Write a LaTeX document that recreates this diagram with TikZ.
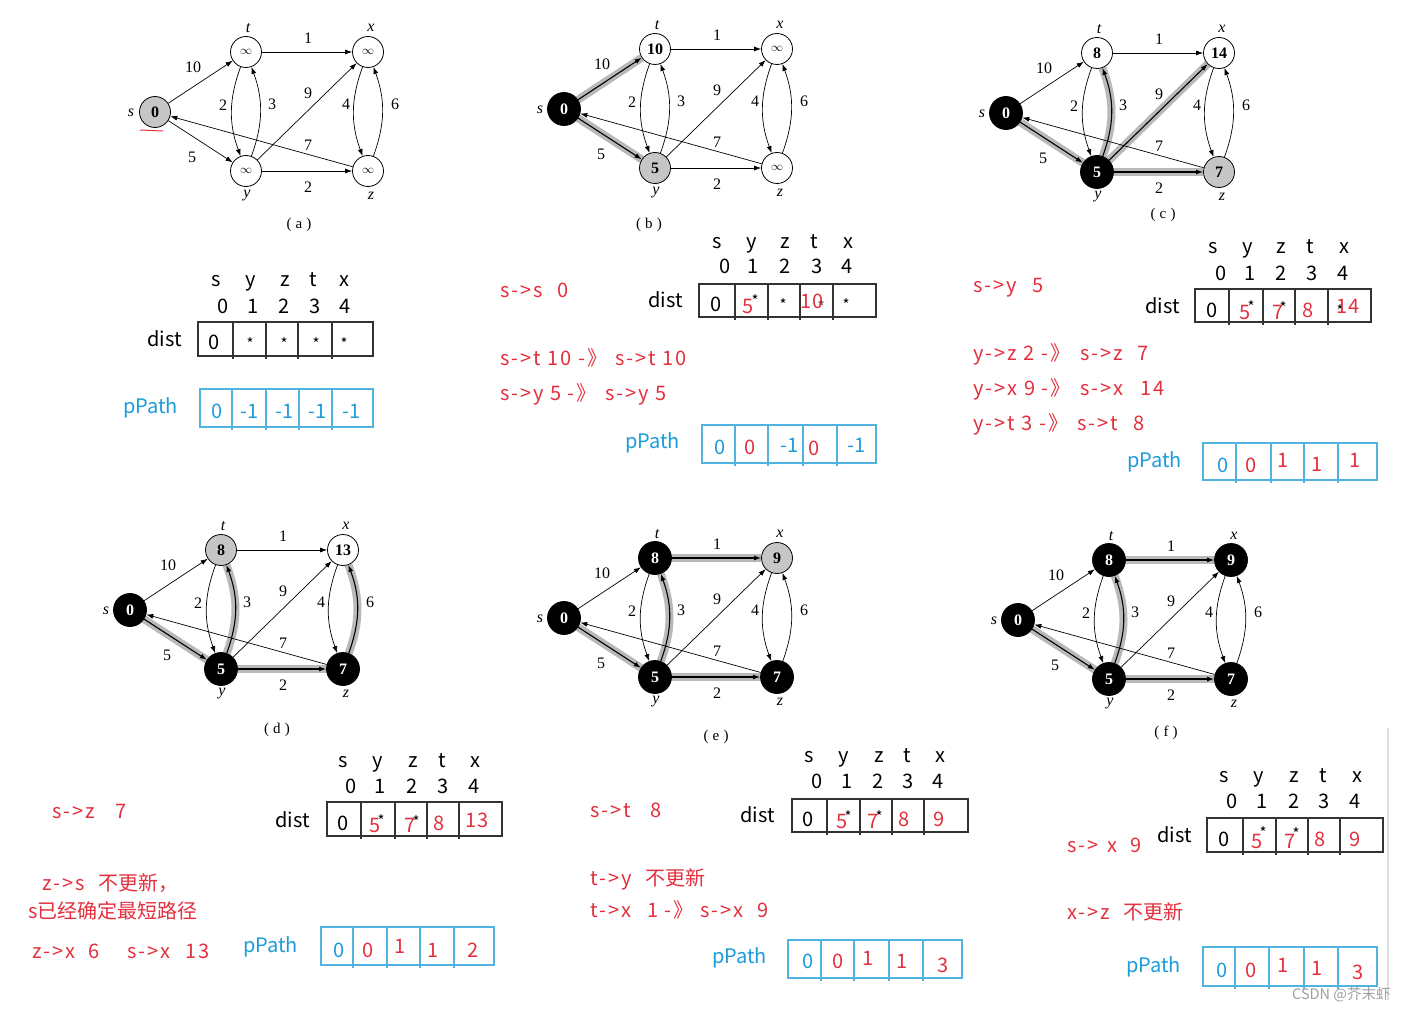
\documentclass[tikz,border=0pt]{standalone}
\usepackage{fontspec}
\setmainfont{Liberation Serif}
\newfontfamily\cjk{Noto Sans CJK SC}
\newfontfamily\cjkw[LetterSpace=10]{Noto Sans CJK SC}
\usetikzlibrary{arrows.meta,backgrounds}
\definecolor{myred}{RGB}{228,48,62}
\definecolor{myblue}{RGB}{28,157,218}
\definecolor{lineblue}{RGB}{80,180,225}
\newcommand\infsym{{\fontsize{13}{13}\selectfont$\infty$}}
\tikzset{
  gnode/.style={circle,draw,line width=0.8pt,minimum size=31pt,inner sep=0pt,font=\bfseries\fontsize{16}{16}\selectfont},
  wn/.style={fill=white},
  gn/.style={fill=gray!45},
  bn/.style={fill=black,text=white,minimum size=33pt},
  val/.style={node contents={#1}},
  gedge/.style={draw,line width=0.7pt,-{Latex[length=7pt,width=5pt]}},
  hlt/.style={preaction={draw,-,line width=8pt,gray!55},line width=1.1pt},
  e st/.style={}, e sy/.style={}, e tx/.style={}, e ty/.style={}, e yt/.style={},
  e yx/.style={}, e yz/.style={}, e zs/.style={}, e xz/.style={}, e zx/.style={},
  elab/.style={font=\fontsize{16}{16}\selectfont,inner sep=0pt},
  vlab/.style={font=\itshape\fontsize{16}{16}\selectfont,inner sep=0pt},
  captn/.style={font=\fontsize{15}{15}\selectfont,inner sep=0pt},
  tt/.style={font=\cjk\fontsize{20}{24}\selectfont,inner sep=0pt,anchor=base},
  ttw/.style={tt,anchor=base west},
  star/.style={font=\cjk\fontsize{15}{15}\selectfont,inner sep=0pt},
  rv/.style={tt,text=myred},
  bv/.style={tt,text=myblue},
  rt/.style={ttw,text=myred,font=\cjkw\fontsize{20}{24}\selectfont},
  rtc/.style={ttw,text=myred},
  tabline/.style={draw=black!80,line width=1.1pt},
  pline/.style={draw=lineblue,line width=1.1pt},
}
% graph: #1 prefix, #2 shift, #3..#7 options of s,t,x,y,z
\newcommand\drawgraph[7]{%
\begin{scope}[shift={#2}]
  \node (#1s) at (0,0) [gnode,#3];
  \node (#1t) at (91,-60) [gnode,#4];
  \node (#1x) at (213,-60) [gnode,#5];
  \node (#1y) at (91,59) [gnode,#6];
  \node (#1z) at (213,59) [gnode,#7];
  \begin{pgfonlayer}{background}
  \path[gedge,e st] (#1s) -- (#1t);
  \path[gedge,e sy] (#1s) -- (#1y);
  \path[gedge,e tx] (#1t) -- (#1x);
  \path[gedge,e ty] (#1t) to[bend right=20] (#1y);
  \path[gedge,e yt] (#1y) to[bend right=20] (#1t);
  \path[gedge,e yx] (#1y) -- (#1x);
  \path[gedge,e yz] (#1y) -- (#1z);
  \path[gedge,e zs] (#1z) -- (#1s);
  \path[gedge,e xz] (#1x) to[bend right=20] (#1z);
  \path[gedge,e zx] (#1z) to[bend right=20] (#1x);
  \end{pgfonlayer}
  \node[vlab] (#1ls) at (-24,1) {s};
  \node[vlab] (#1lt) at (93,-84) {t};
  \node[vlab] (#1lx) at (216,-84) {x};
  \node[vlab] (#1ly) at (92,84) {y};
  \node[vlab] (#1lz) at (216,84) {z};
  \node[elab] (#1w1) at (38,-45) {10};
  \node[elab] (#1w2) at (153,-74) {1};
  \node[elab] (#1w3) at (68,-7) {2};
  \node[elab] (#1w4) at (117,-8) {3};
  \node[elab] (#1w5) at (153,-19) {9};
  \node[elab] (#1w6) at (191,-8) {4};
  \node[elab] (#1w7) at (240,-8) {6};
  \node[elab] (#1w8) at (153,33) {7};
  \node[elab] (#1w9) at (37,45) {5};
  \node[elab] (#1w10) at (153,75) {2};
\end{scope}}
% header rows: #1 prefix, #2 letters baseline, #3 list, #4 digits baseline, #5 list
\newcommand\hdr[5]{%
  \foreach \xx/\ll [count=\i] in {#3} \node[tt] (#1l\i) at (\xx,#2) {\ll};
  \foreach \xx/\ll [count=\i] in {#5} \node[tt] (#1d\i) at (\xx,#4) {\ll};}
% grid: #1 style, #2 left, #3 right, #4 top, #5 bottom, #6 inner x
\newcommand\grid[6]{%
  \draw[#1] (#2,#4) rectangle (#3,#5);
  \foreach \xx in {#6} \draw[#1] (\xx,#4) -- (\xx,#5+3);}
\begin{document}
\begin{tikzpicture}[x=1pt,y=-1pt]
\useasboundingbox (0,0) rectangle (1407,1011);
\begin{pgfonlayer}{background}
\fill[white] (0,0) rectangle (1407,1011);
\end{pgfonlayer}

% ---------- graphs ----------
\drawgraph{a}{(155,112)}{gn,val=0}{wn,val=\infsym}{wn,val=\infsym}{wn,val=\infsym}{wn,val=\infsym}
\draw[myred,line width=1pt] (140,130) -- (163,131);
\node[captn] (capa) at (299,225) {(\;a\;)};

\begin{scope}[e st/.style=hlt, e sy/.style=hlt]
\drawgraph{b}{(564,109)}{bn,val=0}{wn,val=10}{wn,val=\infsym}{gn,val=5}{wn,val=\infsym}
\end{scope}
\node[captn] (capb) at (649,225) {(\;b\;)};

\begin{scope}[e sy/.style=hlt, e yt/.style=hlt, e yx/.style=hlt, e yz/.style=hlt]
\drawgraph{c}{(1006,113)}{bn,val=0}{wn,val=8}{wn,val=14}{bn,val=5}{gn,val=7}
\end{scope}
\node[captn] (capc) at (1163,215) {(\;c\;)};

\begin{scope}[e sy/.style=hlt, e yt/.style=hlt, e yz/.style=hlt, e zx/.style=hlt]
\drawgraph{d}{(130,610)}{bn,val=0}{gn,val=8}{wn,val=13}{bn,val=5}{bn,val=7}
\end{scope}
\node[captn] (capd) at (277,730) {(\;d\;)};

\begin{scope}[e sy/.style=hlt, e yt/.style=hlt, e yz/.style=hlt, e tx/.style=hlt]
\drawgraph{e}{(564,618)}{bn,val=0}{bn,val=8}{gn,val=9}{bn,val=5}{bn,val=7}
\end{scope}
\node[captn] (cape) at (716,737) {(\;e\;)};

\begin{scope}[e sy/.style=hlt, e yt/.style=hlt, e yz/.style=hlt, e tx/.style=hlt]
\drawgraph{f}{(1018,620)}{bn,val=0}{bn,val=8}{bn,val=9}{bn,val=5}{bn,val=7}
\end{scope}
\node[captn] (capf) at (1166,733) {(\;f\;)};

% ---------- table (a) ----------
\hdr{ta}{286}{216/s,251/y,285/z,313/t,344/x}{313}{223/0,253/1,284/2,315/3,345/4}
\grid{tabline}{198}{373}{322}{356}{233,266,298,332}
\node[ttw] (tadist) at (147,346) {dist};
\node[tt] (tav0) at (214,349) {0};
\foreach \xx [count=\i] in {250,284,316,344} \node[star] (tas\i) at (\xx,344) {*};
\grid{pline}{200}{373}{389}{427}{232,266,299,332}
\node[ttw,text=myblue] (tapp) at (123,413) {pPath};
\node[bv] (tap0) at (217,418) {0};
\foreach \xx [count=\i] in {250,285,318,352} \node[bv] (tap\i) at (\xx,418) {-1};

% ---------- table (b) ----------
\hdr{tb}{248}{717/s,752/y,785/z,814/t,848/x}{273}{725/0,753/1,785/2,817/3,847/4}
\grid{tabline}{699}{876}{284}{317}{735,768,800,833}
\node[ttw] (tbdist) at (648,307) {dist};
\node[tt] (tbv0) at (716,311) {0};
\node[star] (tbs1) at (755,301) {*};
\node[rv] (tbv1) at (748,313) {5};
\node[star] (tbs2) at (783,305) {*};
\node[star] (tbs3) at (821,307) {*};
\node[rv] (tbv3) at (812,308) {10};
\node[star] (tbs4) at (846,305) {*};
\grid{pline}{702}{876}{425}{463}{735,768,803,837}
\node[ttw,text=myblue] (tbpp) at (625,448) {pPath};
\node[bv] (tbp0) at (720,454) {0};
\node[rv] (tbp1) at (750,454) {0};
\node[bv] (tbp2) at (790,452) {-1};
\node[rv] (tbp3) at (814,455) {0};
\node[bv] (tbp4) at (857,452) {-1};
\node[rt] (rb1) at (500,297) {s->s};
\node[rt] (rb2) at (557,297) {0};
\node[rt] (rb3) at (500,365) {s->t 10};
\node[rt] (rb4) at (578,365) {-》};
\node[rt] (rb5) at (615,365) {s->t 10};
\node[rt] (rb6) at (500,400) {s->y 5};
\node[rt] (rb7) at (567,400) {-》};
\node[rt] (rb8) at (605,400) {s->y 5};

% ---------- table (c) ----------
\hdr{tc}{253}{1213/s,1248/y,1281/z,1310/t,1344/x}{280}{1221/0,1250/1,1281/2,1312/3,1343/4}
\grid{tabline}{1195}{1371}{289}{322}{1229,1263,1295,1328}
\node[ttw] (tcdist) at (1145,313) {dist};
\node[tt] (tcv0) at (1212,317) {0};
\node[star] (tcs1) at (1251,307) {*};
\node[rv] (tcv1) at (1245,319) {5};
\node[star] (tcs2) at (1283,308) {*};
\node[rv] (tcv2) at (1278,319) {7};
\node[rv] (tcv3) at (1308,317) {8};
\node[star] (tcs4) at (1340,311) {*};
\node[rv] (tcv4) at (1348,313) {14};
\grid{pline}{1203}{1377}{443}{480}{1236,1271,1304,1338}
\node[ttw,text=myblue] (tcpp) at (1127,467) {pPath};
\node[bv] (tcp0) at (1223,472) {0};
\node[rv] (tcp1) at (1251,472) {0};
\node[rv] (tcp2) at (1283,467) {1};
\node[rv] (tcp3) at (1317,471) {1};
\node[rv] (tcp4) at (1355,467) {1};
\node[rt] (rc1) at (973,292) {s->y};
\node[rt] (rc2) at (1032,292) {5};
\node[rt] (rc3) at (973,360) {y->z 2 -》};
\node[rt] (rc4) at (1080,360) {s->z};
\node[rt] (rc5) at (1137,360) {7};
\node[rt] (rc6) at (973,395) {y->x 9 -》};
\node[rt] (rc7) at (1080,395) {s->x};
\node[rt] (rc8) at (1140,395) {14};
\node[rt] (rc9) at (973,430) {y->t 3 -》};
\node[rt] (rc10) at (1077,430) {s->t};
\node[rt] (rc11) at (1133,430) {8};

% ---------- table (d) ----------
\hdr{td}{767}{343/s,378/y,413/z,442/t,475/x}{793}{351/0,380/1,412/2,443/3,474/4}
\grid{tabline}{327}{502}{802}{836}{361,395,427,459}
\node[ttw] (tddist) at (275,827) {dist};
\node[tt] (tdv0) at (343,830) {0};
\node[star] (tds1) at (381,821) {*};
\node[rv] (tdv1) at (375,832) {5};
\node[star] (tds2) at (416,822) {*};
\node[rv] (tdv2) at (410,832) {7};
\node[rv] (tdv3) at (439,830) {8};
\node[rv] (tdv4) at (477,827) {13};
\grid{pline}{321}{494}{927}{965}{353,387,420,454}
\node[ttw,text=myblue] (tdpp) at (243,952) {pPath};
\node[bv] (tdp0) at (339,957) {0};
\node[rv] (tdp1) at (368,957) {0};
\node[rv] (tdp2) at (400,953) {1};
\node[rv] (tdp3) at (433,957) {1};
\node[rv] (tdp4) at (473,957) {2};
\node[rt] (rd1) at (52,818) {s->z};
\node[rt] (rd2) at (115,818) {7};
\node[rt] (rd3) at (42,890) {z->s};
\node[rtc] (rd4) at (98,890) {不更新，};
\node[rtc] (rd5) at (28,918) {s已经确定最短路径};
\node[rt] (rd6) at (32,958) {z->x};
\node[rt] (rd7) at (88,958) {6};
\node[rt] (rd8) at (127,958) {s->x};
\node[rt] (rd9) at (185,958) {13};

% ---------- table (e) ----------
\hdr{te}{762}{809/s,844/y,879/z,907/t,940/x}{788}{817/0,847/1,878/2,908/3,938/4}
\grid{tabline}{792}{968}{799}{832}{827,860,892,924}
\node[ttw] (tedist) at (740,822) {dist};
\node[tt] (tev0) at (808,826) {0};
\node[star] (tes1) at (848,817) {*};
\node[rv] (tev1) at (842,828) {5};
\node[star] (tes2) at (879,817) {*};
\node[rv] (tev2) at (873,828) {7};
\node[rv] (tev3) at (904,826) {8};
\node[rv] (tev4) at (939,826) {9};
\grid{pline}{788}{962}{940}{978}{821,854,889,923}
\node[ttw,text=myblue] (tepp) at (712,963) {pPath};
\node[bv] (tep0) at (808,968) {0};
\node[rv] (tep1) at (838,968) {0};
\node[rv] (tep2) at (868,965) {1};
\node[rv] (tep3) at (902,968) {1};
\node[rv] (tep4) at (943,972) {3};
\node[rt] (re1) at (590,817) {s->t};
\node[rt] (re2) at (650,817) {8};
\node[rt] (re3) at (590,885) {t->y};
\node[rtc] (re4) at (645,885) {不更新};
\node[rt] (re5) at (590,917) {t->x};
\node[rt] (re6) at (647,917) {1 -》};
\node[rt] (re7) at (700,917) {s->x};
\node[rt] (re8) at (757,917) {9};

% ---------- table (f) ----------
\hdr{tf}{782}{1224/s,1259/y,1294/z,1323/t,1357/x}{808}{1232/0,1262/1,1294/2,1324/3,1355/4}
\grid{tabline}{1207}{1383}{818}{852}{1243,1276,1308,1340}
\node[ttw] (tfdist) at (1157,842) {dist};
\node[tt] (tfv0) at (1224,846) {0};
\node[star] (tfs1) at (1263,833) {*};
\node[rv] (tfv1) at (1257,848) {5};
\node[star] (tfs2) at (1296,834) {*};
\node[rv] (tfv2) at (1290,848) {7};
\node[rv] (tfv3) at (1320,846) {8};
\node[rv] (tfv4) at (1355,846) {9};
\grid{pline}{1203}{1377}{947}{986}{1235,1269,1304,1338}
\node[ttw,text=myblue] (tfpp) at (1126,972) {pPath};
\node[bv] (tfp0) at (1222,977) {0};
\node[rv] (tfp1) at (1251,977) {0};
\node[rv] (tfp2) at (1283,972) {1};
\node[rv] (tfp3) at (1317,975) {1};
\node[rv] (tfp4) at (1358,979) {3};
\node[rt] (rf1) at (1067,852) {s->};
\node[rt] (rf2) at (1107,852) {x};
\node[rt] (rf3) at (1130,852) {9};
\node[rt] (rf4) at (1067,919) {x->z};
\node[rtc] (rf5) at (1123,919) {不更新};

% ---------- misc ----------
\draw[gray!25,line width=1.2pt] (1388,728) -- (1388,1000);
\node[font=\cjk\fontsize{14.5}{14.5}\selectfont,text=gray!75,inner sep=0pt,anchor=base west] (wm) at (1292,999) {CSDN @芥末虾};
\end{tikzpicture}
\end{document}
